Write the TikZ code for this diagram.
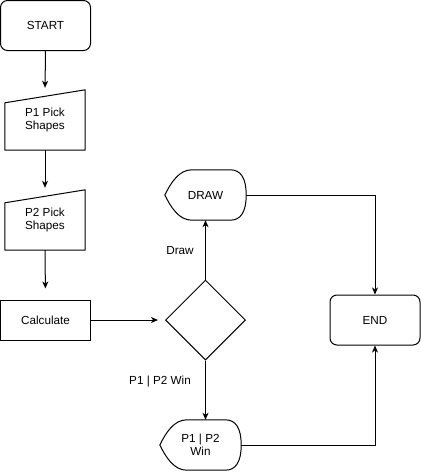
\documentclass[tikz,border=0pt]{standalone}
\usepackage{fontspec}
\setmainfont{Liberation Sans}
\usetikzlibrary{arrows.meta,shapes.geometric,calc}
\begin{document}
\begin{tikzpicture}[x=1pt,y=-1pt, font=\fontsize{11.7}{13.5}\selectfont,
  box/.style={draw, line width=1pt, rounded corners=7pt, minimum width=90pt, minimum height=50pt, inner sep=0},
  plainbox/.style={draw, line width=1pt, minimum width=90pt, minimum height=40pt, inner sep=0},
  ghost/.style={minimum width=80pt, minimum height=60pt, inner sep=0, align=center},
  dispnode/.style={minimum width=81pt, minimum height=50pt, inner sep=0, align=center},
  outline/.style={draw, line width=1pt, line join=round},
  arr/.style={draw, line width=1pt, -{Stealth[length=7pt,width=6pt,inset=2pt]}},
  lbl/.style={inner sep=0}]
\useasboundingbox (0,0) rectangle (421,472);

% nodes
\node[box] (start) at (45.5,25.5) {START};
\node[ghost] (p1) at (45,120) {P1 Pick\\Shapes};
\node[ghost] (p2) at (45,220) {P2 Pick\\Shapes};
\node[plainbox] (calc) at (45.5,320) {Calculate};
\node[draw, diamond, line width=1pt, minimum width=80pt, minimum height=80pt, inner sep=0] (dia) at (205.5,320) {};
\node[dispnode] (drawn) at (205.5,195) {DRAW};
\node[dispnode] (win) at (200.5,445) {P1 | P2\\Win};
\node[box] (endn) at (375,320) {END};
\node[lbl] (labdraw) at (180,251) {Draw};
\node[lbl] (labwin) at (160,381) {P1 | P2 Win};

% manual input outlines
\draw[outline] ($(p1.north west)+(0,13)$) -- (p1.north east) -- (p1.south east) -- (p1.south west) -- cycle;
\draw[outline] ($(p2.north west)+(0,13)$) -- (p2.north east) -- (p2.south east) -- (p2.south west) -- cycle;

% display outlines
\foreach \n in {drawn,win}{
\draw[outline] (\n.west) .. controls +(6,-12) and +(-13,0) .. ($(\n.north west)+(27,0)$)
  -- ($(\n.north east)+(-16,0)$) .. controls +(10.7,0) and +(0,-16.7) .. (\n.east)
  .. controls +(0,16.7) and +(10.7,0) .. ($(\n.south east)+(-16,0)$)
  -- ($(\n.south west)+(27,0)$) .. controls +(-13,0) and +(6,12) .. (\n.west) -- cycle;
}

% connectors
\draw[arr, shorten >=2pt] (start.south) -- (p1.north);
\draw[arr, shorten >=2pt] (p1.south) -- (p2.north);
\draw[arr, shorten >=11pt] (p2.south) -- (calc.north);
\draw[arr, shorten >=7pt] (calc.east) -- (dia.west);
\draw[arr] (dia.north) -- (drawn.south);
\draw[arr] (dia.south) -- (dia.south |- win.north);
\draw[arr] (drawn.east) -| (endn.north);
\draw[arr] (win.east) -| (endn.south);
\end{tikzpicture}
\end{document}
